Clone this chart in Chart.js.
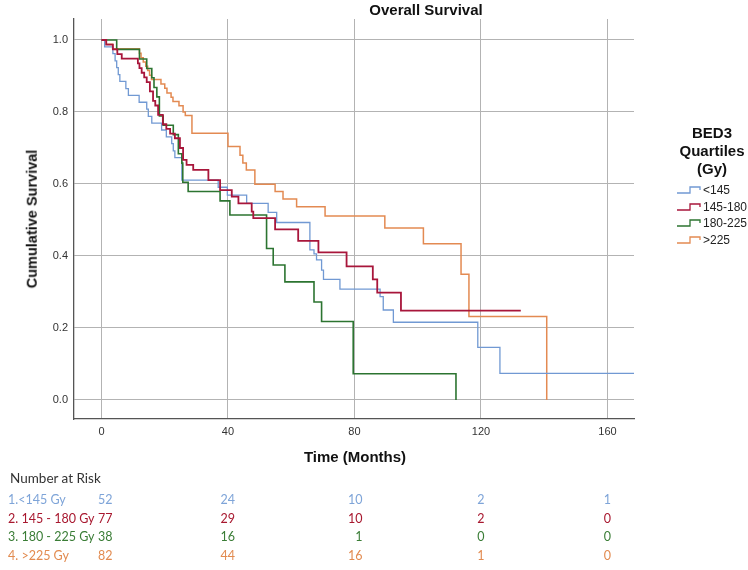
<!DOCTYPE html>
<html>
<head>
<meta charset="utf-8">
<script src="https://cdn.jsdelivr.net/npm/chart.js@4.4.1/dist/chart.umd.min.js"></script>
<style>
    html, body { margin: 0; padding: 0; background: #fff; }
    #wrap { position: relative; width: 748px; height: 570px; overflow: hidden; font-family: "Liberation Sans", Arial, sans-serif; color: #111; }
    #km { position: absolute; left: 0; top: 0; }
    .t { position: absolute; white-space: nowrap; line-height: 1; }
    .mid { transform: translate(-50%, -50%); }
    .vmid { transform: translateY(-50%); }
    .bold { font-weight: bold; font-size: 15px; }
    #ytitle { transform: translate(-50%, -50%) rotate(-90deg); font-size: 14.5px; }
    .leg { font-size: 12px; color: #222; }
    .risk { font-family: Lato, "Noto Sans", sans-serif; font-size: 12.5px; }
</style>
</head>
<body>
<div id="wrap">
    <canvas id="km" width="748" height="570"></canvas>
    <div class="t bold mid" style="left:426px; top:9px;">Overall Survival</div>
    <div id="ytitle" class="t bold" style="left:32px; top:219px;">Cumulative Survival</div>
    <div class="t bold mid" style="left:355px; top:456px;">Time (Months)</div>
    <div id="legend"></div>
    <div id="risk"></div>
</div>
<script>
// Kaplan-Meier steps: time (months) at which survival drops to the value
const blueTimes = [0, 1.0, 3.6, 4.3, 4.8, 5.3, 5.8, 7.7, 8.5, 11.9, 14.3, 14.8, 15.9, 19.0, 20.5, 22.2, 22.7, 23.2, 25.4,
    36.9, 39.8, 45.9, 52.7, 55.4, 65.9, 67.2, 68.0, 69.6, 70.2, 75.4, 88.1, 89.1, 92.3, 119.0, 126.0, 172];
const blueSurv = [1, 0.981, 0.962, 0.942, 0.923, 0.904, 0.885, 0.865, 0.846, 0.827, 0.808, 0.788, 0.769, 0.750, 0.731, 0.712, 0.692, 0.673, 0.611,
    0.591, 0.569, 0.546, 0.521, 0.493, 0.417, 0.406, 0.389, 0.361, 0.335, 0.308, 0.287, 0.250, 0.216, 0.146, 0.074, 0.074];

const redTimes = [0, 1.5, 3.6, 5.0, 6.4, 11.5, 12.0, 12.7, 13.5, 14.3, 15.3, 16.3, 17.0, 17.9, 19.4, 20.5, 21.7, 23.2, 24.8, 25.8,
    26.9, 29.0, 33.8, 37.5, 41.2, 43.3, 47.5, 48.0, 54.9, 62.2, 68.6, 77.5, 85.8, 87.2, 94.7, 132.6];
const redSurv = [1, 0.987, 0.974, 0.961, 0.948, 0.935, 0.922, 0.909, 0.896, 0.883, 0.857, 0.831, 0.818, 0.792, 0.766, 0.753, 0.740, 0.727, 0.700, 0.667,
    0.653, 0.639, 0.611, 0.583, 0.565, 0.546, 0.523, 0.505, 0.474, 0.442, 0.410, 0.371, 0.335, 0.298, 0.248, 0.248];

const greenTimes = [0, 4.8, 12.0, 14.3, 15.9, 16.6, 17.5, 18.3, 19.5, 22.7, 24.3, 25.4, 25.7, 27.4, 37.5, 40.6,
    52.2, 54.3, 58.0, 67.2, 69.6, 79.6, 112.1];
const greenSurv = [1, 0.974, 0.947, 0.921, 0.895, 0.868, 0.842, 0.789, 0.763, 0.737, 0.684, 0.658, 0.605, 0.579, 0.553, 0.514,
    0.421, 0.375, 0.328, 0.272, 0.218, 0.073, 0.0];

const orangeTimes = [0, 1.5, 3.5, 12.0, 12.5, 13.2, 14.0, 14.6, 15.2, 15.8, 18.8, 20.0, 20.7, 22.0, 22.6, 24.5, 25.8, 26.5, 28.6,
    40.0, 43.8, 44.7, 45.8, 48.5, 54.9, 57.4, 61.7, 70.7, 89.6, 101.8, 113.7, 116.2, 140.8];
const orangeSurv = [1, 0.988, 0.976, 0.963, 0.951, 0.939, 0.927, 0.915, 0.902, 0.890, 0.878, 0.866, 0.853, 0.841, 0.829, 0.817, 0.800, 0.790, 0.741,
    0.704, 0.680, 0.658, 0.639, 0.599, 0.579, 0.558, 0.537, 0.511, 0.478, 0.434, 0.349, 0.232, 0.0];

const legendLabels = ['<145', '145-180', '180-225', '>225'];
const riskTimes = [0, 40, 80, 120, 160];
const riskLabels = ['1.<145 Gy', '2. 145 - 180 Gy', '3. 180 - 225 Gy', '4. >225 Gy'];
const riskBlue = [52, 24, 10, 2, 1];
const riskRed = [77, 29, 10, 2, 0];
const riskGreen = [38, 16, 1, 0, 0];
const riskOrange = [82, 44, 16, 1, 0];

const COLORS = { blue: '#7199d3', red: '#a8163b', green: '#2c7431', orange: '#e38a52' };
const TEXT_COLORS = ['#7ea4d8', '#a8182f', '#3a7d36', '#e28b50'];

function toPoints(times, surv) {
    return times.map((t, i) => ({ x: t, y: surv[i] }));
}

function stepSet(label, times, surv, color, width) {
    return {
        label: label,
        data: toPoints(times, surv),
        borderColor: color,
        borderWidth: width,
        stepped: true,
        pointRadius: 0,
        fill: false,
        tension: 0
    };
}

document.addEventListener('DOMContentLoaded', () => {
    Chart.defaults.font.family = '"Liberation Sans", Arial, sans-serif';
    Chart.defaults.color = '#333';

    const ctx = document.getElementById('km').getContext('2d');
    const chart = new Chart(ctx, {
        type: 'line',
        data: {
            datasets: [
                stepSet(legendLabels[1], redTimes, redSurv, COLORS.red, 1.8),
                stepSet(legendLabels[2], greenTimes, greenSurv, COLORS.green, 1.6),
                stepSet(legendLabels[0], blueTimes, blueSurv, COLORS.blue, 1.3),
                stepSet(legendLabels[3], orangeTimes, orangeSurv, COLORS.orange, 1.5)
            ]
        },
        options: {
            responsive: false,
            animation: false,
            devicePixelRatio: 1,
            layout: { padding: { left: 14, top: 19, right: 114, bottom: 121 } },
            plugins: { legend: { display: false }, tooltip: { enabled: false } },
            scales: {
                x: {
                    type: 'linear',
                    min: -8.7,
                    max: 168.4,
                    afterFit: s => { s.height = 30; },
                    ticks: { stepSize: 40, includeBounds: false, padding: 6, font: { size: 11 }, color: '#333', maxRotation: 0 },
                    grid: { color: '#b3b3b3', lineWidth: 1, drawTicks: false },
                    border: { display: true, color: '#555', width: 1.3 }
                },
                y: {
                    type: 'linear',
                    min: -0.0528,
                    max: 1.0583,
                    afterFit: s => { s.width = 60; },
                    ticks: {
                        stepSize: 0.2, includeBounds: false, padding: 6, font: { size: 11 }, color: '#333',
                        callback: v => v.toFixed(1)
                    },
                    grid: { color: '#b3b3b3', lineWidth: 1, drawTicks: false },
                    border: { display: true, color: '#555', width: 1.3 }
                }
            }
        }
    });

    buildLegend();
    buildRiskTable(chart.scales.x);
});

function buildLegend() {
    const box = document.getElementById('legend');
    ['BED3', 'Quartiles', '(Gy)'].forEach((txt, i) => {
        const d = document.createElement('div');
        d.className = 't bold mid';
        d.style.left = '712px';
        d.style.top = (132 + i * 18) + 'px';
        d.innerText = txt;
        box.appendChild(d);
    });
    const cols = [COLORS.blue, COLORS.red, COLORS.green, COLORS.orange];
    legendLabels.forEach((lab, i) => {
        const y = 190 + i * 16.7;
        const svg = document.createElementNS('http://www.w3.org/2000/svg', 'svg');
        svg.setAttribute('width', '26');
        svg.setAttribute('height', '12');
        svg.style.position = 'absolute';
        svg.style.left = '676px';
        svg.style.top = (y - 6) + 'px';
        const p = document.createElementNS('http://www.w3.org/2000/svg', 'path');
        p.setAttribute('d', 'M1,9 H14 V3 H24 V6');
        p.setAttribute('fill', 'none');
        p.setAttribute('stroke', cols[i]);
        p.setAttribute('stroke-width', '1.3');
        svg.appendChild(p);
        box.appendChild(svg);
        const d = document.createElement('div');
        d.className = 't leg vmid';
        d.style.left = '703px';
        d.style.top = y + 'px';
        d.innerText = lab;
        box.appendChild(d);
    });
}

function buildRiskTable(xScale) {
    const box = document.getElementById('risk');
    const head = document.createElement('div');
    head.className = 't risk vmid';
    head.style.left = '10px';
    head.style.top = '479px';
    head.style.color = '#333';
    head.style.fontSize = '13.5px';
    head.innerText = 'Number at Risk';
    box.appendChild(head);

    const rows = [riskBlue, riskRed, riskGreen, riskOrange];
    const shift = [11, 7, 8, 0, 0];
    rows.forEach((vals, r) => {
        const y = 500 + r * 18.5;
        const lab = document.createElement('div');
        lab.className = 't risk vmid';
        lab.style.left = '8px';
        lab.style.top = y + 'px';
        lab.style.color = TEXT_COLORS[r];
        lab.innerText = riskLabels[r];
        box.appendChild(lab);
        vals.forEach((v, j) => {
            const px = xScale.getPixelForValue(riskTimes[j]) + shift[j];
            const d = document.createElement('div');
            d.className = 't risk';
            d.style.top = y + 'px';
            d.style.color = TEXT_COLORS[r];
            if (j < 3) {
                d.style.right = (748 - px) + 'px';
                d.style.transform = 'translateY(-50%)';
            } else {
                d.style.left = px + 'px';
                d.style.transform = 'translate(-50%, -50%)';
            }
            d.innerText = String(v);
            box.appendChild(d);
        });
    });
}
</script>
</body>
</html>
